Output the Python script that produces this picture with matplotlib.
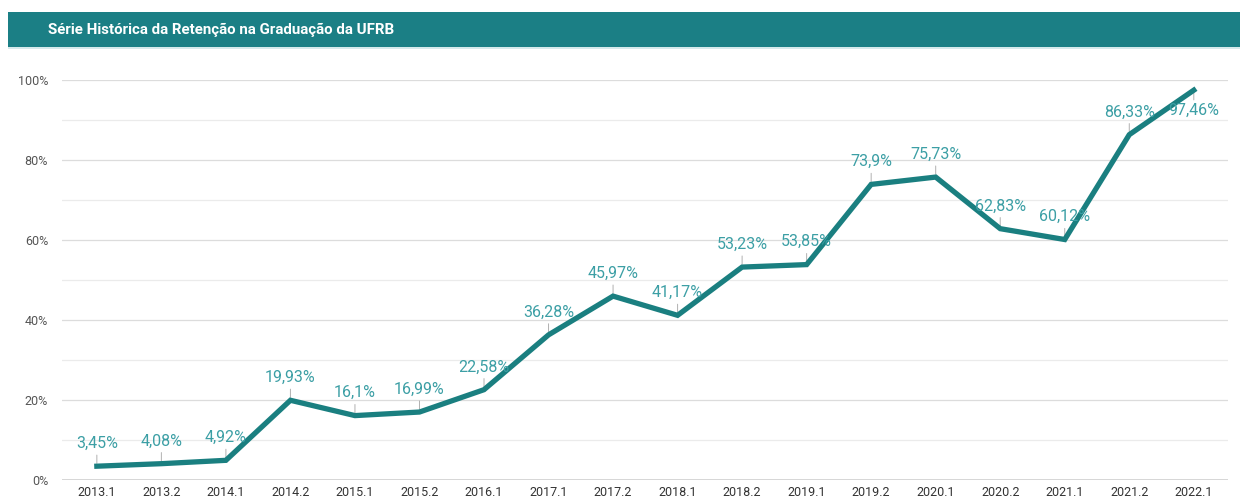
import matplotlib
matplotlib.use("Agg")
import matplotlib.pyplot as plt
from matplotlib.patches import Rectangle

categories = ["2013.1", "2013.2", "2014.1", "2014.2", "2015.1", "2015.2", "2016.1", "2017.1", "2017.2",
              "2018.1", "2018.2", "2019.1", "2019.2", "2020.1", "2020.2", "2021.1", "2021.2", "2022.1"]
values = [3.45, 4.08, 4.92, 19.93, 16.1, 16.99, 22.58, 36.28, 45.97,
          41.17, 53.23, 53.85, 73.9, 75.73, 62.83, 60.12, 86.33, 97.46]
labels = ["3,45%", "4,08%", "4,92%", "19,93%", "16,1%", "16,99%", "22,58%", "36,28%", "45,97%",
          "41,17%", "53,23%", "53,85%", "73,9%", "75,73%", "62,83%", "60,12%", "86,33%", "97,46%"]
yticks = [0, 20, 40, 60, 80, 100]
ytick_labels = ["0%", "20%", "40%", "60%", "80%", "100%"]
title = "Série Histórica da Retenção na Graduação da UFRB"

plt.rcParams['font.family'] = ['Roboto', 'DejaVu Sans']
W, H = 1240, 500
fig = plt.figure(figsize=(12.4, 5.0), dpi=100)
fig.patch.set_facecolor("white")

# title bar
fig.patches.append(Rectangle((8 / W, 1 - 47 / H), 1 - 8 / W, 35 / H, transform=fig.transFigure,
                             facecolor="#1b7f85", edgecolor="none", zorder=0))
fig.patches.append(Rectangle((8 / W, 1 - 49 / H), 1 - 8 / W, 2 / H, transform=fig.transFigure,
                             facecolor="#d6eaec", edgecolor="none", zorder=0))
fig.text(48 / W, 1 - 30 / H, title, color="white", fontsize=10.8, fontweight="bold",
         va="center", ha="left")

ax = fig.add_axes([62 / W, 1 - 480 / H, (1228 - 62) / W, 400 / H])
x = list(range(len(categories)))
ax.set_xlim(-0.54, 17.53)
ax.set_ylim(0, 100)

for yv in range(10, 101, 10):
    ax.axhline(yv, color="#ebebeb" if yv % 20 else "#dcdcdc", lw=0.9, zorder=0)
ax.axhline(0, color="#333333", lw=1.0, zorder=1)

line_color = "#1a7f80"
ax.plot(x, values, color=line_color, lw=3.8, solid_joinstyle="miter", zorder=3)

label_color = "#3c9fa5"
for i, (v, lab) in enumerate(zip(values, labels)):
    if i == len(values) - 1:
        ax.annotate("", xy=(i, v), xytext=(0, -9), textcoords="offset points",
                    arrowprops=dict(arrowstyle="-", color="#b0b0b0", lw=0.7), zorder=2)
        ax.annotate(lab, xy=(i, v), xytext=(0, -9), textcoords="offset points",
                    ha="center", va="top", color=label_color, fontsize=11.5, zorder=4)
    else:
        ax.annotate("", xy=(i, v), xytext=(0, 10), textcoords="offset points",
                    arrowprops=dict(arrowstyle="-", color="#b0b0b0", lw=0.7), zorder=2)
        ax.annotate(lab, xy=(i, v), xytext=(0, 11), textcoords="offset points",
                    ha="center", va="bottom", color=label_color, fontsize=11.5, zorder=4)

ax.set_xticks(x)
ax.set_xticklabels(categories, fontsize=9, color="#333333")
ax.set_yticks(yticks)
ax.set_yticklabels(ytick_labels, fontsize=9, color="#555555")
ax.tick_params(axis="both", length=0)
ax.tick_params(axis="x", pad=4)
ax.tick_params(axis="y", pad=10)
for s in ax.spines.values():
    s.set_visible(False)
ax.set_facecolor("none")

fig.savefig("out.png", dpi=100)
